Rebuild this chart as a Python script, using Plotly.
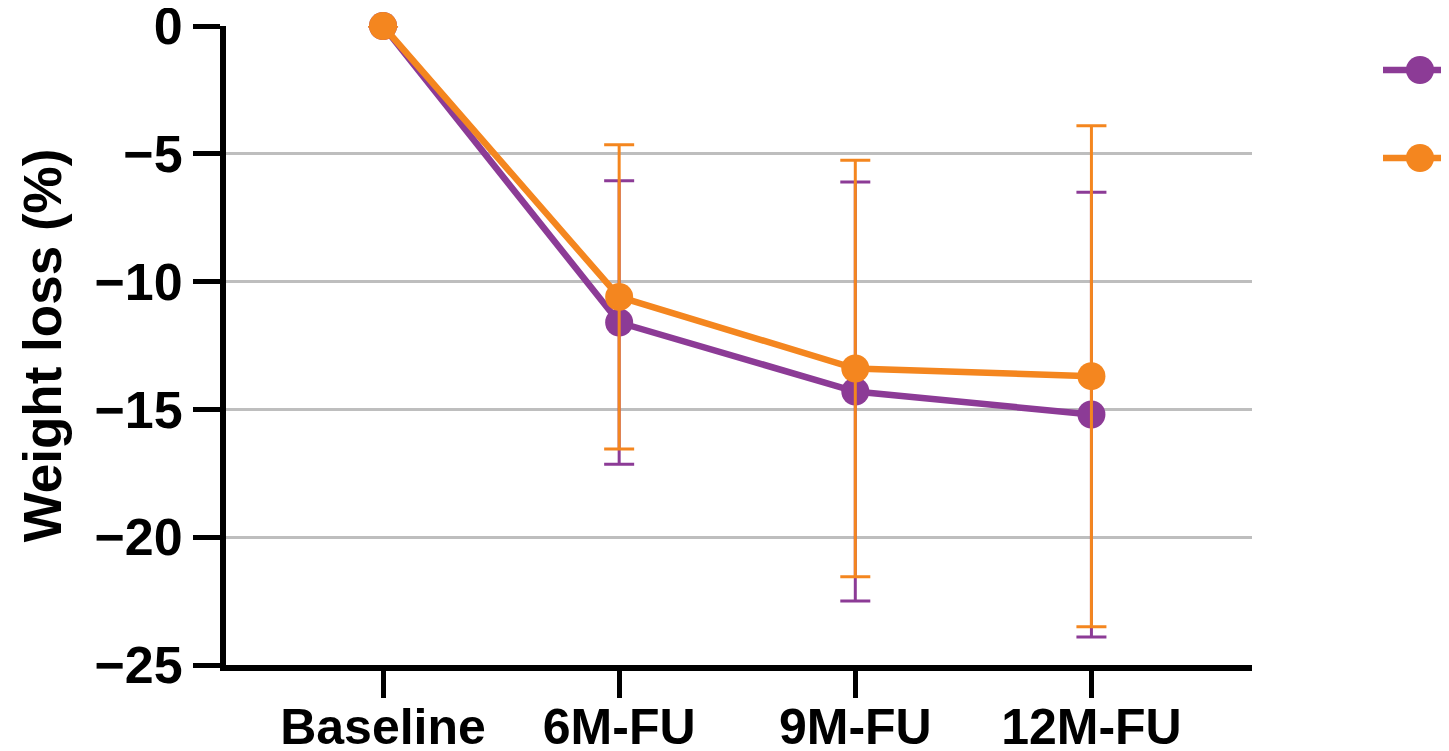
import plotly.graph_objects as go

categories = ["Baseline", "6M-FU", "9M-FU", "12M-FU"]
y_ticks = [0, -5, -10, -15, -20, -25]

purple_name = "Group 1"
purple_mean = [0, -11.6, -14.3, -15.2]
purple_sd = [None, 5.55, 8.2, 8.7]

orange_name = "Group 2"
orange_mean = [0, -10.6, -13.4, -13.7]
orange_sd = [None, 5.95, 8.15, 9.8]

PURPLE = "#8C3B96"
ORANGE = "#F4861F"
FONT = "Liberation Sans, Arial, sans-serif"

# page offset from default body margin (8px)
OFF = 8
W, H = 1449 - OFF, 751 - OFF
L, T = 226 - OFF, 26 - OFF
PW, PH = 1252 - 226, 665 - 26
R, B = W - L - PW, H - T - PH

fig = go.Figure()
series = [
    (purple_name, purple_mean, purple_sd, PURPLE),
    (orange_name, orange_mean, orange_sd, ORANGE),
]
for name, mean, sd, col in series:
    fig.add_trace(go.Scatter(
        x=categories, y=mean, name=name, mode="lines+markers",
        line=dict(color=col, width=6.5),
        marker=dict(color=col, size=28),
        error_y=dict(type="data", array=sd, symmetric=True, color=col,
                     thickness=3, width=15),
        cliponaxis=False, showlegend=False,
    ))

# legend symbols (labels lie outside the visible area in the reference)
legend_px = [(1420, 70), (1420, 158)]
shapes = []
for (px, py), (_, _, _, col) in zip(legend_px, series):
    ax = (px - 226) / PW
    ay = (665 - py) / PH
    shapes.append(dict(type="line", xref="paper", yref="paper",
                       xsizemode="pixel", ysizemode="pixel",
                       xanchor=ax, yanchor=ay, x0=-37, x1=60, y0=0, y1=0,
                       line=dict(color=col, width=6.5)))
    shapes.append(dict(type="circle", xref="paper", yref="paper",
                       xsizemode="pixel", ysizemode="pixel",
                       xanchor=ax, yanchor=ay, x0=-14, x1=14, y0=-14, y1=14,
                       fillcolor=col, line=dict(width=0)))

fig.update_layout(
    width=W, height=H,
    margin=dict(l=L, r=R, t=T, b=B, autoexpand=False),
    paper_bgcolor="white", plot_bgcolor="white",
    font=dict(family=FONT, size=50, color="black", weight="bold"),
    showlegend=False,
    shapes=shapes,
    xaxis=dict(
        type="category", range=[-0.665, 3.68],
        showline=True, linewidth=6, linecolor="black",
        ticks="outside", ticklen=27, tickwidth=5, tickcolor="black",
        showgrid=False, zeroline=False,
        tickfont=dict(family=FONT, size=50, weight="bold"),
        ticklabelstandoff=-14,
    ),
    yaxis=dict(
        range=[-25, 0], tickvals=y_ticks,
        showline=True, linewidth=6, linecolor="black",
        ticks="outside", ticklen=27, tickwidth=5, tickcolor="black",
        showgrid=True, gridcolor="#BEBEBE", gridwidth=3, zeroline=False,
        tickfont=dict(family=FONT, size=52, weight="bold"),
        ticklabeloverflow="allow",
        title=dict(text="Weight loss (%)", font=dict(family=FONT, size=53, weight="bold"), standoff=18),
    ),
)

fig.write_html("out.html")
